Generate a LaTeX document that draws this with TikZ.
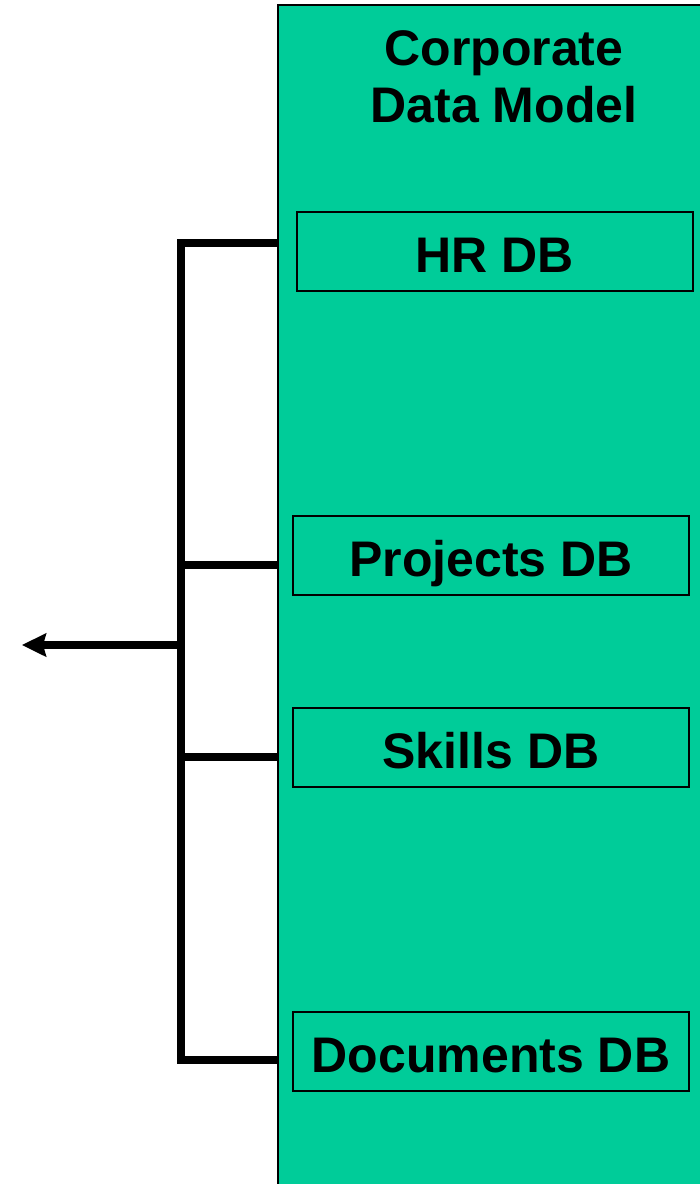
\documentclass[tikz,border=0pt]{standalone}
\usepackage{fontspec}
\setmainfont{Liberation Sans}
\usetikzlibrary{positioning, arrows.meta}
\definecolor{dbgreen}{HTML}{00CC99}
\tikzset{
  dbbox/.style={draw, line width=1.6pt, fill=dbgreen, minimum width=396pt,
                minimum height=79pt, inner sep=0pt, text height=41pt, text depth=0pt,
                font=\bfseries\fontsize{50}{57}\selectfont},
  bus/.style={line width=8pt, line join=miter}
}

\begin{document}
\begin{tikzpicture}[x=1pt, y=-1pt, >={Stealth[length=24pt, width=23pt, inset=3pt]}]
\useasboundingbox (0,0) rectangle (700,1184);
\node[draw, line width=1.6pt, fill=dbgreen, anchor=north west, inner sep=0pt,
      minimum width=440pt, minimum height=1200pt] (cdm) at (277,4) {};
\node[align=center, inner sep=0pt, font=\bfseries\fontsize{50}{57}\selectfont]
      (title) at (504,77) {Corporate\\Data Model};
\node[dbbox] (hr) at (495,251.5) {HR DB};
\node[dbbox] (proj) at (491,555.5) {Projects DB};
\node[dbbox] (skills) at (491,747.5) {Skills DB};
\node[dbbox] (docs) at (491,1051.5) {Documents DB};

\coordinate (hrjoin) at (277,243);
\coordinate (projjoin) at (277,565);
\coordinate (skilljoin) at (277,757);
\coordinate (docjoin) at (277,1060);
\coordinate (bustop) at (181,243);
\coordinate (busbot) at (181,1060);
\coordinate (busmid) at (181,645);
\coordinate (out) at (22,645);

\draw[bus] (hrjoin) -- (bustop) -- (busbot) -- (docjoin);
\draw[bus] (projjoin) -- (projjoin -| bustop);
\draw[bus] (skilljoin) -- (skilljoin -| bustop);
\draw[bus, ->] (busmid) -- (out);
\end{tikzpicture}
\end{document}
